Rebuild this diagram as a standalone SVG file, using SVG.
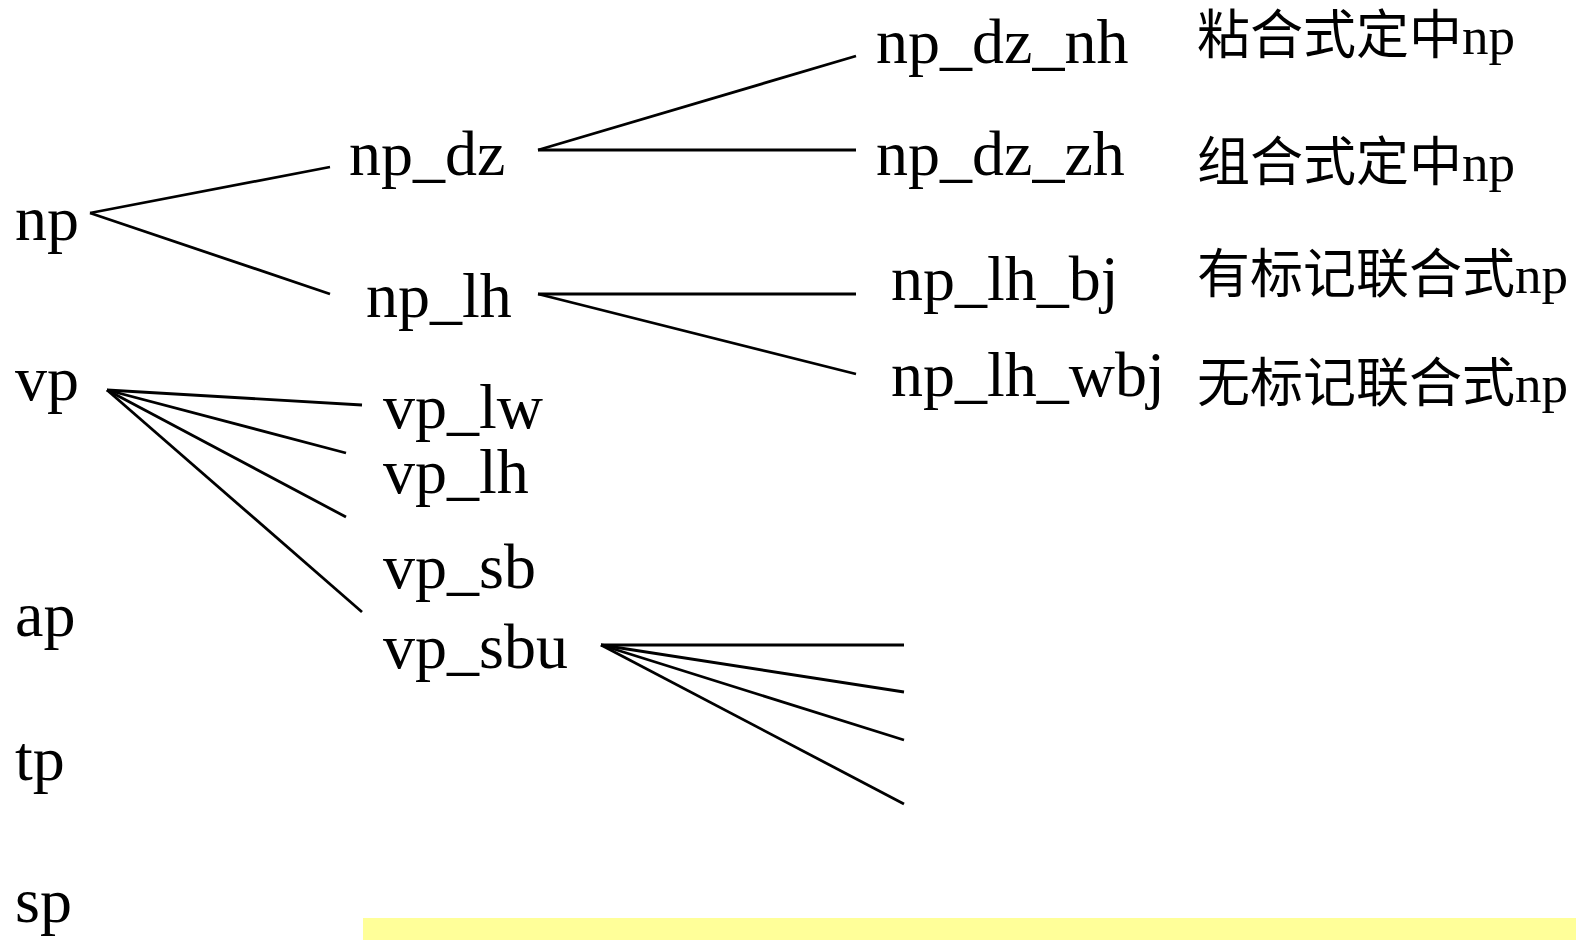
<svg xmlns="http://www.w3.org/2000/svg" width="1576" height="940" viewBox="0 0 1576 940">
  <style>
    .lbl { font-family: "Liberation Serif", "Noto Sans CJK SC", serif; font-size: 64px; fill: #000; }
    .note { font-family: "Liberation Serif", "Noto Sans CJK SC", serif; font-size: 53px; fill: #000; }
    .edge { stroke: #000; stroke-width: 2.8; fill: none; stroke-linecap: butt; }
  </style>
  <rect width="1576" height="940" fill="#fff"/>

  <!-- branches of the phrase tree -->
  <g id="connectors">
    <line class="edge" x1="90" y1="213" x2="330" y2="167"/>
    <line class="edge" x1="90" y1="213" x2="330" y2="294"/>
    <line class="edge" x1="538" y1="150" x2="856" y2="56"/>
    <line class="edge" x1="538" y1="150" x2="856" y2="150"/>
    <line class="edge" x1="538" y1="294" x2="856" y2="294"/>
    <line class="edge" x1="538" y1="294" x2="856" y2="374"/>
    <line class="edge" x1="107" y1="390" x2="362" y2="405"/>
    <line class="edge" x1="107" y1="390" x2="346" y2="453"/>
    <line class="edge" x1="107" y1="390" x2="346" y2="517"/>
    <line class="edge" x1="107" y1="390" x2="362" y2="612"/>
    <line class="edge" x1="601" y1="645" x2="904" y2="645"/>
    <line class="edge" x1="601" y1="645" x2="904" y2="692"/>
    <line class="edge" x1="601" y1="645" x2="904" y2="740"/>
    <line class="edge" x1="601" y1="645" x2="904" y2="804"/>
  </g>

  <!-- top-level phrase types -->
  <g id="np"><text class="lbl" x="15" y="240">np</text></g>
  <g id="vp"><text class="lbl" x="15" y="400">vp</text></g>
  <g id="ap"><text class="lbl" x="15" y="636">ap</text></g>
  <g id="tp"><text class="lbl" x="15" y="780">tp</text></g>
  <g id="sp"><text class="lbl" x="15" y="922">sp</text></g>

  <!-- second level -->
  <g id="np_dz"><text class="lbl" x="349" y="175">np_dz</text></g>
  <g id="np_lh"><text class="lbl" x="366" y="317">np_lh</text></g>
  <g id="vp_lw"><text class="lbl" x="383" y="428">vp_lw</text></g>
  <g id="vp_lh"><text class="lbl" x="383" y="493">vp_lh</text></g>
  <g id="vp_sb"><text class="lbl" x="383" y="588">vp_sb</text></g>
  <g id="vp_sbu"><text class="lbl" x="383" y="668">vp_sbu</text></g>

  <!-- third level -->
  <g id="np_dz_nh"><text class="lbl" x="876" y="63">np_dz_nh</text></g>
  <g id="np_dz_zh"><text class="lbl" x="876" y="175">np_dz_zh</text></g>
  <g id="np_lh_bj"><text class="lbl" x="891" y="300">np_lh_bj</text></g>
  <g id="np_lh_wbj"><text class="lbl" x="891" y="396">np_lh_wbj</text></g>

  <!-- glosses -->
  <g id="gloss_nh"><text class="note" x="1197" y="54">粘合式定中np</text></g>
  <g id="gloss_zh"><text class="note" x="1197" y="181">组合式定中np</text></g>
  <g id="gloss_bj"><text class="note" x="1197" y="293">有标记联合式np</text></g>
  <g id="gloss_wbj"><text class="note" x="1197" y="402">无标记联合式np</text></g>

  <!-- highlighted strip along the bottom edge -->
  <rect x="363" y="918" width="1213" height="22" fill="#ffff99"/>
</svg>
